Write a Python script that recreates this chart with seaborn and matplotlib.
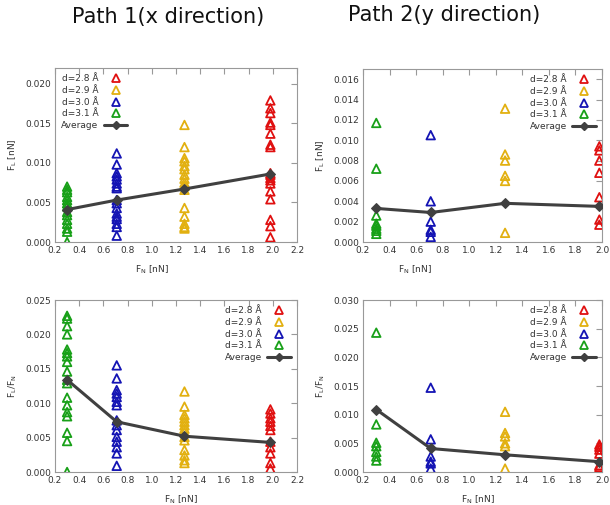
import numpy as np
import pandas as pd
import matplotlib
matplotlib.use("Agg")
import matplotlib.pyplot as plt
from matplotlib.lines import Line2D
import seaborn as sns

# x position of each tip distance group (F_N in nN)
fn_groups = {"d=2.8 Å": 1.98, "d=2.9 Å": 1.27, "d=3.0 Å": 0.71, "d=3.1 Å": 0.30}
colors = {"d=2.8 Å": "#e01010", "d=2.9 Å": "#e2b010",
          "d=3.0 Å": "#1414b4", "d=3.1 Å": "#18a018"}

# Path 1, lateral force F_L [nN]
p1_fl_28 = [0.0179, 0.0169, 0.0163, 0.0151, 0.0148, 0.0137, 0.0123, 0.0120, 0.0087,
            0.0085, 0.0081, 0.0078, 0.0074, 0.0064, 0.0054, 0.0028, 0.0020, 0.0006]
p1_fl_29 = [0.0148, 0.0120, 0.0106, 0.0102, 0.0096, 0.0092, 0.0085, 0.0080, 0.0075,
            0.0071, 0.0066, 0.0043, 0.0032, 0.0023, 0.0019, 0.0017]
p1_fl_30 = [0.0112, 0.0098, 0.0087, 0.0083, 0.0079, 0.0074, 0.0070, 0.0068, 0.0053,
            0.0049, 0.0043, 0.0036, 0.0032, 0.0029, 0.0023, 0.0019, 0.0008]
p1_fl_31 = [0.0070, 0.0066, 0.0063, 0.0057, 0.0053, 0.0049, 0.0045, 0.0038, 0.0034,
            0.0028, 0.0023, 0.0017, 0.0013, 0.0000]
p1_fl_avg = [0.0086, 0.0067, 0.0053, 0.0041]

# Path 2, lateral force F_L [nN]
p2_fl_28 = [0.0094, 0.0090, 0.0080, 0.0068, 0.0044, 0.0022, 0.0017]
p2_fl_29 = [0.0131, 0.0086, 0.0080, 0.0065, 0.0060, 0.0009]
p2_fl_30 = [0.0105, 0.0040, 0.0020, 0.0012, 0.0010, 0.0005]
p2_fl_31 = [0.0117, 0.0072, 0.0026, 0.0018, 0.0016, 0.0013, 0.0011, 0.0008]
p2_fl_avg = [0.0035, 0.0038, 0.0029, 0.0033]

# Path 1, friction coefficient F_L/F_N
p1_mu_28 = [0.0091, 0.0085, 0.0078, 0.0073, 0.0067, 0.0061, 0.0044, 0.0036,
            0.0027, 0.0013, 0.0005]
p1_mu_29 = [0.0117, 0.0095, 0.0083, 0.0078, 0.0073, 0.0068, 0.0063, 0.0058,
            0.0051, 0.0046, 0.0032, 0.0024, 0.0017, 0.0013]
p1_mu_30 = [0.0155, 0.0136, 0.0119, 0.0114, 0.0109, 0.0102, 0.0097, 0.0075,
            0.0068, 0.0061, 0.0051, 0.0044, 0.0036, 0.0027, 0.0009]
p1_mu_31 = [0.0227, 0.0223, 0.0212, 0.0200, 0.0178, 0.0173, 0.0168, 0.0160,
            0.0146, 0.0134, 0.0129, 0.0108, 0.0097, 0.0087, 0.0081, 0.0057,
            0.0045, 0.0000]
p1_mu_avg = [0.0043, 0.0052, 0.0073, 0.0134]

# Path 2, friction coefficient F_L/F_N
p2_mu_28 = [0.0048, 0.0044, 0.0039, 0.0032, 0.0012, 0.0009]
p2_mu_29 = [0.0105, 0.0068, 0.0062, 0.0050, 0.0045, 0.0006]
p2_mu_30 = [0.0147, 0.0057, 0.0027, 0.0018, 0.0015, 0.0006]
p2_mu_31 = [0.0243, 0.0083, 0.0051, 0.0045, 0.0035, 0.0027, 0.0020]
p2_mu_avg = [0.0018, 0.0030, 0.0041, 0.0109]

labels = list(fn_groups)


def make_df(series):
    rows = []
    for lab, vals in zip(labels, series):
        for v in vals:
            rows.append({"fn": fn_groups[lab], "val": v, "d": lab})
    return pd.DataFrame(rows)


def plot_panel(ax, series, avg, ylim, yticks, xlim, xticks, ylabel,
               legend_loc, xlabel_x):
    df = make_df(series)
    for lab in labels:
        sub = df[df.d == lab]
        sns.scatterplot(data=sub, x="fn", y="val", marker="^", s=38,
                        facecolor="none", edgecolor=colors[lab],
                        linewidth=1.3, ax=ax, legend=False, zorder=3)
    avg_df = pd.DataFrame({"fn": [fn_groups[l] for l in labels], "val": avg})
    sns.lineplot(data=avg_df, x="fn", y="val", color="#404040", lw=2.2,
                 marker="D", markersize=5, markeredgecolor="#404040",
                 ax=ax, zorder=4)

    ax.set_xlim(*xlim)
    ax.set_ylim(*ylim)
    ax.set_xticks(xticks)
    ax.set_yticks(yticks)
    ax.set_xticklabels([f"{t:.1f}" for t in xticks])
    ax.set_yticklabels([f"{t:.3f}" for t in yticks])
    ax.tick_params(direction="in", top=True, right=True, length=4,
                   labelsize=6.5, colors="#999999", labelcolor="#333333",
                   width=0.8, pad=3)
    for sp in ax.spines.values():
        sp.set_color("#999999")
        sp.set_linewidth(0.8)
    ax.set_xlabel("F$_\\mathregular{N}$ [nN]", fontsize=6.5, color="#333333")
    ax.set_ylabel(ylabel, fontsize=6.5, color="#333333")
    ax.xaxis.set_label_coords(xlabel_x, -0.125)

    handles = [Line2D([], [], ls="none", marker="^", mfc="none",
                      mec=colors[l], mew=1.3, ms=6) for l in labels]
    handles.append(Line2D([], [], color="#404040", lw=2.2, marker="D",
                          ms=4.5))
    leg = ax.legend(handles, labels + ["Average"], loc=legend_loc,
                    frameon=False, fontsize=6.5, markerfirst=False,
                    handlelength=2.6, handletextpad=0.6, labelspacing=0.3,
                    borderaxespad=0.3)
    for t in leg.get_texts():
        t.set_color("#333333")


sns.set_style("white")
plt.rcParams["font.family"] = ["DejaVu Sans"]

fig = plt.figure(figsize=(6.1, 5.05), dpi=100)

ax1 = fig.add_axes([55 / 610, 1 - 242 / 505, 242 / 610, 174 / 505])
ax2 = fig.add_axes([363 / 610, 1 - 242 / 505, 239 / 610, 173 / 505])
ax3 = fig.add_axes([55 / 610, 1 - 472 / 505, 242 / 610, 172 / 505])
ax4 = fig.add_axes([363 / 610, 1 - 472 / 505, 239 / 610, 172 / 505])

xt_left = np.round(np.arange(0.2, 2.21, 0.2), 1)
xt_right = np.round(np.arange(0.2, 2.01, 0.2), 1)

plot_panel(ax1, [p1_fl_28, p1_fl_29, p1_fl_30, p1_fl_31], p1_fl_avg,
           (0, 0.022), np.arange(0, 0.0201, 0.005), (0.2, 2.2), xt_left,
           "F$_\\mathregular{L}$ [nN]", "upper left", 0.40)
plot_panel(ax2, [p2_fl_28, p2_fl_29, p2_fl_30, p2_fl_31], p2_fl_avg,
           (0, 0.017), np.arange(0, 0.0161, 0.002), (0.2, 2.0), xt_right,
           "F$_\\mathregular{L}$ [nN]", "upper right", 0.215)
plot_panel(ax3, [p1_mu_28, p1_mu_29, p1_mu_30, p1_mu_31], p1_mu_avg,
           (0, 0.025), np.arange(0, 0.0251, 0.005), (0.2, 2.2), xt_left,
           "F$_\\mathregular{L}$/F$_\\mathregular{N}$", "upper right", 0.52)
plot_panel(ax4, [p2_mu_28, p2_mu_29, p2_mu_30, p2_mu_31], p2_mu_avg,
           (0, 0.030), np.arange(0, 0.0301, 0.005), (0.2, 2.0), xt_right,
           "F$_\\mathregular{L}$/F$_\\mathregular{N}$", "upper right", 0.48)

fig.text(168 / 610, 1 - 17 / 505, "Path 1(x direction)", ha="center",
         va="center", fontsize=15, color="#111111")
fig.text(444 / 610, 1 - 15 / 505, "Path 2(y direction)", ha="center",
         va="center", fontsize=15, color="#111111")

fig.savefig("out.png", dpi=100)
